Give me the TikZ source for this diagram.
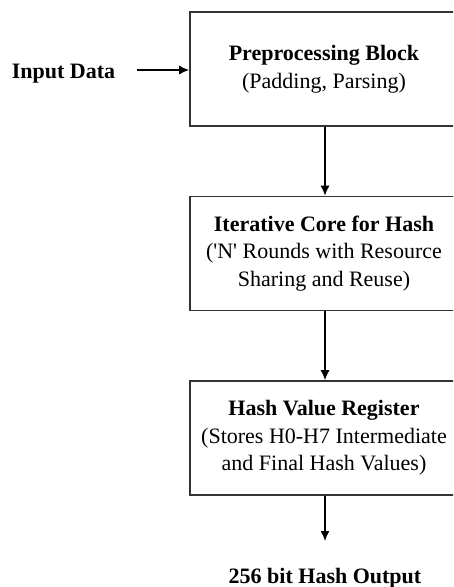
\documentclass[tikz,border=0pt]{standalone}
\usepackage{fontspec}
\setmainfont{Liberation Serif}
\usetikzlibrary{arrows.meta}
\begin{document}
\begin{tikzpicture}[x=1pt,y=-1pt,
  blockbox/.style={draw=black!80, line width=1.6pt, minimum width=268pt, minimum height=114pt,
    align=center, inner sep=0pt, font=\fontsize{22}{27.5}\selectfont},
  plainlabel/.style={font=\fontsize{22}{27.5}\selectfont\bfseries, inner sep=0pt},
  flow/.style={line width=1.4pt, -{Latex[length=10pt,width=9pt]}}]
\useasboundingbox (0,0) rectangle (453,587);
\clip (0,0) rectangle (453,587);
\node[blockbox] (pre) at (324,69) {\textbf{Preprocessing Block}\\(Padding, Parsing)};
\node[blockbox] (core) at (324,253.5) {\textbf{Iterative Core for Hash}\\(\textquotesingle N\textquotesingle{} Rounds with Resource\\Sharing and Reuse)};
\node[blockbox] (reg) at (324,438) {\textbf{Hash Value Register}\\(Stores H0-H7 Intermediate\\and Final Hash Values)};
\node[plainlabel, anchor=base] (in) at (63.5,78) {Input Data};
\node[plainlabel, anchor=base] (out) at (325,583) {256 bit Hash Output};
\coordinate (inend) at (137,70);
\coordinate (outend) at (325,541);
\draw[flow] (inend) -- (pre.west |- inend);
\draw[flow] (pre.south -| 325,0) -- (core.north -| 325,0);
\draw[flow] (core.south -| 325,0) -- (reg.north -| 325,0);
\draw[flow] (reg.south -| 325,0) -- (outend);
\end{tikzpicture}
\end{document}
